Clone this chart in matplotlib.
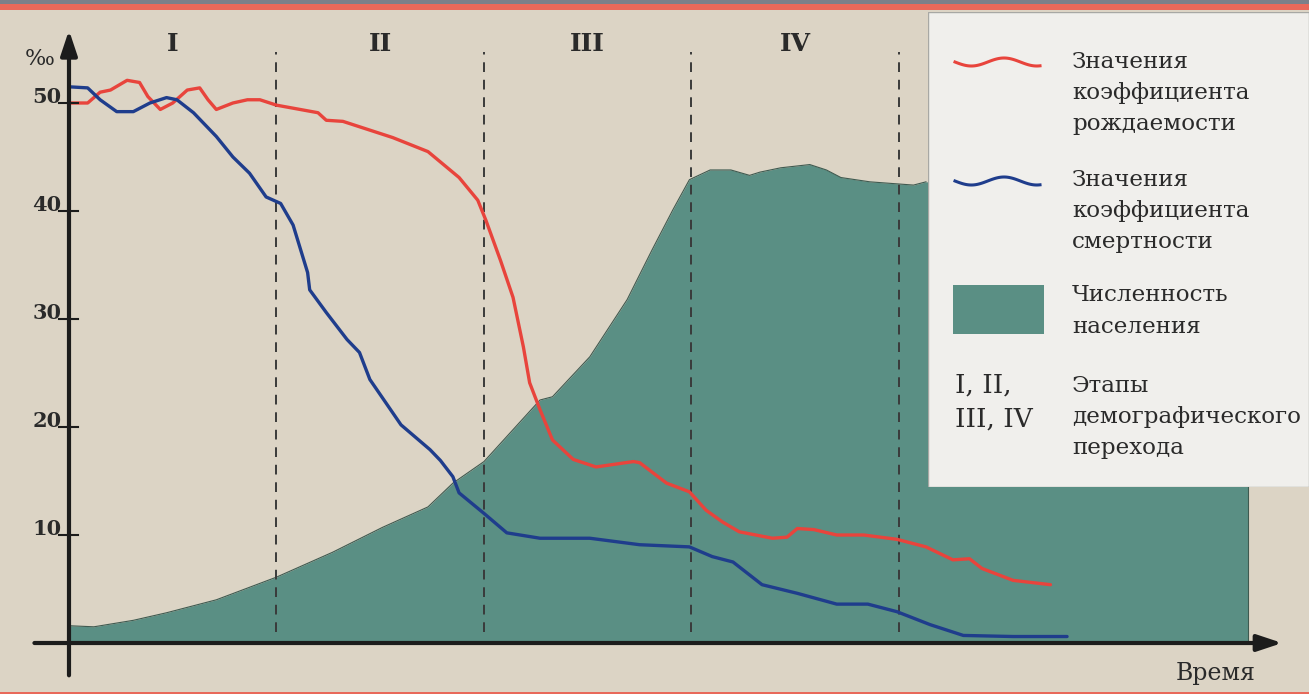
import numpy as np
import matplotlib.pyplot as plt
from matplotlib.patches import Rectangle

# stage units on the time axis (boundaries of stages at 1, 2, 3, 4)
birth_x = [0.00, 0.09, 0.15, 0.20, 0.28, 0.34, 0.38, 0.44, 0.50, 0.57, 0.63, 0.67,
           0.71, 0.79, 0.86, 0.92, 1.00, 1.20, 1.24, 1.32, 1.56, 1.73, 1.88, 1.97,
           2.01, 2.08, 2.14, 2.19, 2.22, 2.27, 2.33, 2.43, 2.54, 2.72, 2.75, 2.88,
           2.99, 3.07, 3.15, 3.23, 3.39, 3.46, 3.51, 3.59, 3.70, 3.83, 3.99, 4.13,
           4.26, 4.34, 4.40, 4.55, 4.73]
birth_rate = [50.0, 50.0, 51.0, 51.2, 52.1, 51.9, 50.6, 49.4, 50.0, 51.2, 51.4, 50.3,
              49.4, 50.0, 50.3, 50.3, 49.8, 49.1, 48.4, 48.3, 46.8, 45.5, 43.1, 41.0,
              39.1, 35.4, 32.0, 27.4, 24.1, 21.6, 18.8, 17.0, 16.3, 16.8, 16.7, 14.8,
              14.0, 12.3, 11.2, 10.3, 9.7, 9.8, 10.6, 10.5, 10.0, 10.0, 9.6, 8.9,
              7.7, 7.8, 6.9, 5.8, 5.4]

death_x = [0.00, 0.09, 0.15, 0.23, 0.31, 0.39, 0.47, 0.52, 0.60, 0.71, 0.79, 0.87,
           0.95, 1.02, 1.08, 1.15, 1.16, 1.24, 1.34, 1.40, 1.45, 1.60, 1.74, 1.79,
           1.85, 1.88, 2.00, 2.11, 2.27, 2.51, 2.75, 2.99, 3.10, 3.20, 3.34, 3.51,
           3.70, 3.85, 3.99, 4.15, 4.31, 4.55, 4.81]
death_rate = [51.5, 51.4, 50.3, 49.2, 49.2, 50.0, 50.5, 50.3, 49.1, 46.9, 45.0, 43.5,
              41.3, 40.7, 38.7, 34.3, 32.7, 30.6, 28.1, 26.9, 24.4, 20.2, 17.9, 16.9,
              15.4, 13.9, 12.0, 10.2, 9.7, 9.7, 9.1, 8.9, 8.0, 7.5, 5.4, 4.6,
              3.6, 3.6, 2.9, 1.7, 0.7, 0.6, 0.6]

pop_x = [0.00, 0.12, 0.31, 0.47, 0.71, 1.00, 1.27, 1.51, 1.73, 1.85, 2.00, 2.27,
         2.33, 2.51, 2.69, 2.81, 2.91, 2.99, 3.09, 3.19, 3.28, 3.33, 3.43, 3.57,
         3.65, 3.72, 3.86, 4.07, 4.13, 5.68]
population = [1.6, 1.5, 2.1, 2.8, 4.0, 6.1, 8.4, 10.7, 12.6, 14.8, 16.8, 22.5,
              22.8, 26.5, 31.8, 36.4, 40.1, 42.9, 43.8, 43.8, 43.3, 43.6, 44.0, 44.3,
              43.8, 43.1, 42.7, 42.4, 42.7, 42.7]

stages = ['I', 'II', 'III', 'IV']
stage_bounds = [1, 2, 3, 4]
y_ticks = [10, 20, 30, 40, 50]

legend_items = ['Значения\nкоэффициента\nрождаемости',
                'Значения\nкоэффициента\nсмертности',
                'Численность\nнаселения',
                'Этапы\nдемографического\nперехода']

BG = '#dcd4c5'
TEAL = '#5a8f84'
RED = '#e8443c'
BLUE = '#1f3d8c'
INK = '#2a2a2a'

plt.rcParams['font.family'] = ['DejaVu Serif']

fig = plt.figure(figsize=(13.09, 6.94), dpi=100)
fig.patch.set_facecolor(BG)
ax = fig.add_axes([0, 0, 1, 1])
ax.set_facecolor(BG)
ax.set_xlim(-0.3325, 5.976)
ax.set_ylim(-4.722, 59.537)
ax.axis('off')

# population area
ax.fill_between(pop_x, 0, population, color=TEAL, lw=0, zorder=1)
ax.plot(pop_x[:-1], population[:-1], color='#3f5a50', lw=0.8, zorder=1.5)
ax.plot([pop_x[-1], pop_x[-1]], [0, population[-1]], color='#3f5a50', lw=0.8, zorder=1.5)

# stage borders
for b in stage_bounds:
    ax.plot([b, b], [1.0, 54.7], color='#3a3a3a', lw=1.4, ls=(0, (5, 4)), zorder=2)
for i, s in enumerate(stages):
    ax.text(i + 0.5, 55.5, s, ha='center', va='center', fontsize=18,
            fontweight='bold', color=INK, zorder=5)

# rate curves
ax.plot(birth_x, birth_rate, color=RED, lw=2.4, zorder=3, solid_capstyle='round')
ax.plot(death_x, death_rate, color=BLUE, lw=2.4, zorder=3, solid_capstyle='round')

# axes with arrows
ax.annotate('', xy=(5.86, 0), xytext=(-0.18, 0),
            arrowprops=dict(arrowstyle='-|>,head_length=1.5,head_width=0.5',
                            color='#1c1c1c', lw=3), zorder=4)
ax.annotate('', xy=(0, 57.0), xytext=(0, -3.25),
            arrowprops=dict(arrowstyle='-|>,head_length=1.5,head_width=0.5',
                            color='#1c1c1c', lw=3), zorder=4)
for t in y_ticks:
    ax.plot([-0.05, 0.045], [t, t], color='#1c1c1c', lw=1.5, zorder=4)
    ax.text(-0.035, t, str(t), ha='right', va='baseline', fontsize=15,
            fontweight='bold', color=INK, zorder=5)
ax.text(-0.07, 54.1, '‰', ha='right', va='center', fontsize=16, color=INK)
ax.text(5.72, -2.8, 'Время', ha='right', va='center', fontsize=17, color=INK)

# legend panel in pixel coordinates
lg = fig.add_axes([928 / 1309, (694 - 487) / 694, (1309 - 928) / 1309, (487 - 12) / 694])
lg.set_xlim(928, 1309)
lg.set_ylim(487, 12)
lg.axis('off')
lg.add_patch(Rectangle((928, 12), 381, 475, facecolor='#f0efec', edgecolor='#a8a8a4',
                       lw=1.0))
wx = np.linspace(955, 1040, 80)
wave = 4 * np.sin((wx - 955) / 85 * 2.6 * np.pi)
lg.plot(wx, 62 + wave, color=RED, lw=2.2)
lg.plot(wx, 181 + wave, color=BLUE, lw=2.2)
lg.add_patch(Rectangle((953, 285), 91, 49, facecolor=TEAL, edgecolor='none'))
lg.text(955, 402, 'I, II,\nIII, IV', ha='left', va='center', fontsize=19,
        color=INK, linespacing=1.45)
for txt, yc in zip(legend_items, [93, 211, 311, 417]):
    lg.text(1072, yc, txt, ha='left', va='center', fontsize=16.6, color=INK,
            linespacing=1.55)

# page frame
fig.patches.append(Rectangle((0, 690 / 694), 1, 4 / 694, transform=fig.transFigure,
                             facecolor='#7b8089', edgecolor='none', zorder=10))
fig.patches.append(Rectangle((0, 684 / 694), 1, 6 / 694, transform=fig.transFigure,
                             facecolor='#e8695a', edgecolor='none', zorder=10))
fig.patches.append(Rectangle((0, 0), 1, 2 / 694, transform=fig.transFigure,
                             facecolor='#e8695a', edgecolor='none', zorder=10))

fig.savefig('out.png', dpi=100, facecolor=BG)
